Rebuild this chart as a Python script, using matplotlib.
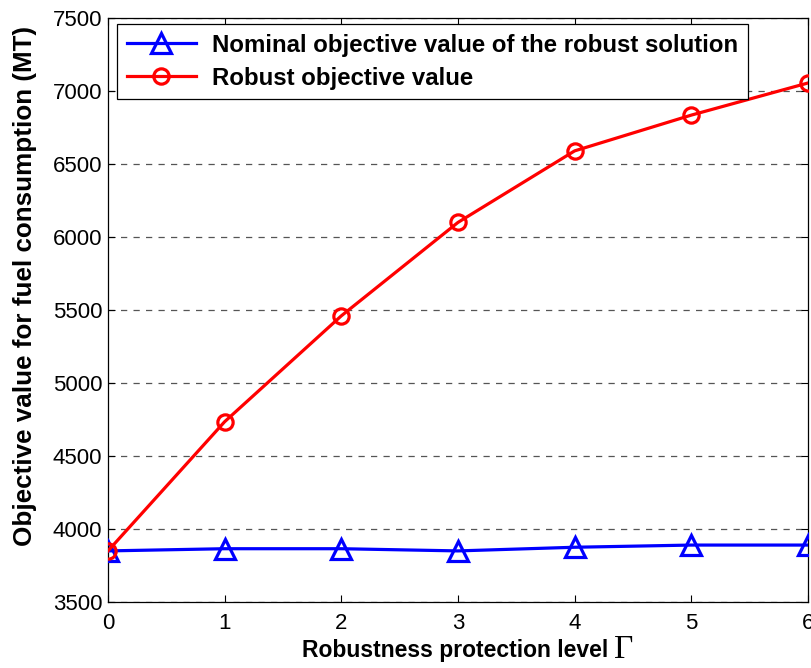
import matplotlib
matplotlib.use("Agg")
import matplotlib.pyplot as plt

gamma = [0, 1, 2, 3, 4, 5, 6]
nominal = [3850, 3865, 3865, 3850, 3875, 3890, 3890]
robust = [3850, 4735, 5460, 6100, 6590, 6835, 7055]
yticks = [3500, 4000, 4500, 5000, 5500, 6000, 6500, 7000, 7500]

plt.rcParams['font.family'] = ['Liberation Sans', 'DejaVu Sans']

fig = plt.figure(figsize=(8.12, 6.68), dpi=100)
ax = fig.add_axes([0.133, 0.0988, 0.862, 0.8742])

ax.plot(gamma, nominal, color='#0000ff', lw=2.3, marker='^', ms=14, mew=2.3,
        mfc='none', mec='#0000ff', label='Nominal objective value of the robust solution', zorder=3)
ax.plot(gamma, robust, color='#ff0000', lw=2.3, marker='o', ms=11, mew=2.3,
        mfc='none', mec='#ff0000', label='Robust objective value', zorder=3)

ax.set_xlim(0, 6)
ax.set_ylim(3500, 7500)
ax.set_xticks(gamma)
ax.set_yticks(yticks)
ax.yaxis.grid(True, linestyle=(0, (5, 5)), color='#555555', lw=0.9)
ax.tick_params(direction='in', top=True, right=True, labelsize=16, length=5, width=0.8)
ax.tick_params(axis='x', pad=8)
ax.tick_params(axis='y', pad=4)
for s in ax.spines.values():
    s.set_linewidth(0.9)

xl = ax.set_xlabel('Robustness protection level', fontsize=16.5, fontweight='bold')
ax.xaxis.set_label_coords(0.496, -0.064)
ax.set_ylabel('Objective value for fuel consumption (MT)', fontsize=18.7, fontweight='bold')
ax.yaxis.set_label_coords(-0.102, 0.541)

leg = ax.legend(loc='upper left', bbox_to_anchor=(0.0129, 0.9897), borderaxespad=0,
                prop={'weight': 'bold', 'size': 17.3},
                fancybox=False, framealpha=1, edgecolor='black', handlelength=2.9,
                handletextpad=0.65, borderpad=0.4, labelspacing=0.42)
leg.get_frame().set_linewidth(0.9)

fig.canvas.draw()
bb = xl.get_window_extent()
fig.text((bb.x1 + 6) / fig.bbox.width, (bb.y0 + 4) / fig.bbox.height, '\u0393',
         family='Liberation Serif', fontsize=24, ha='left', va='baseline')

fig.savefig('out.png', dpi=100)
